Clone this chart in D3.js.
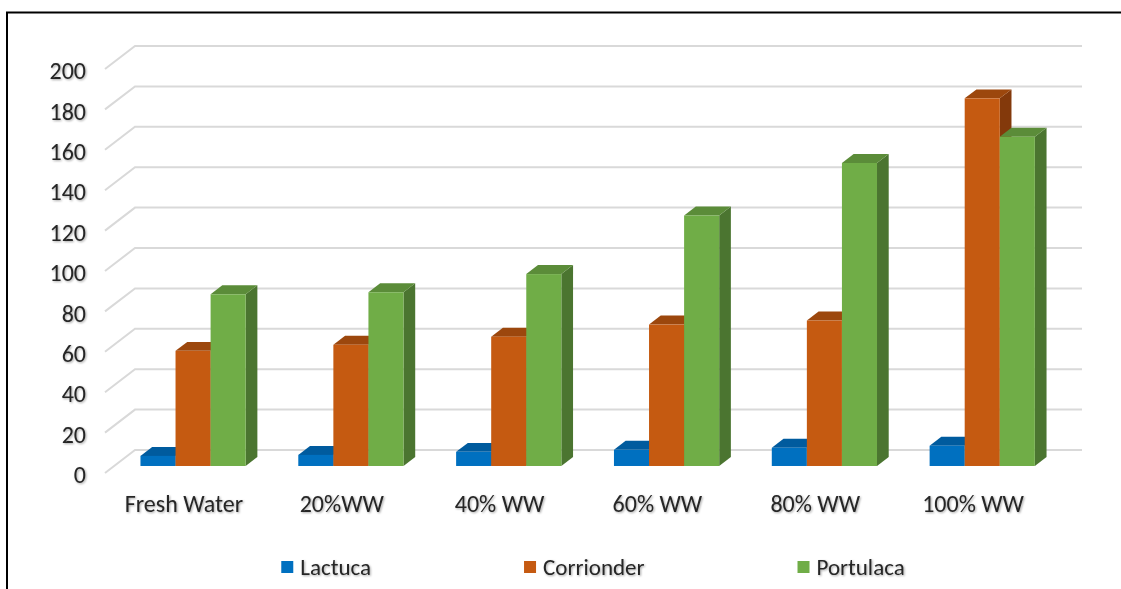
<!DOCTYPE html>
<html>
<head>
<meta charset="utf-8">
<script src="https://cdn.jsdelivr.net/npm/d3@7"></script>
<style>
  html, body { margin: 0; padding: 0; background: #fff; }
  svg { display: block; }
  text { font-family: Carlito, Lato, "Open Sans", sans-serif; fill: #262626; }
</style>
</head>
<body>
<svg id="chart" width="1121" height="589"></svg>
<script>
// Treatments (fresh water vs. wastewater share) and crop series
const categories = ["Fresh Water", "20%WW", "40% WW", "60% WW", "80% WW", "100% WW"];
const seriesNames = ["Lactuca", "Corrionder", "Portulaca"];
const lactuca    = [5, 5.5, 7, 8, 9, 10];
const corrionder = [57, 60, 64, 70, 72, 182];
const portulaca  = [85, 86, 95, 124, 150, 163];
const yTicks = [0, 20, 40, 60, 80, 100, 120, 140, 160, 180, 200];

const seriesValues = [lactuca, corrionder, portulaca];

const svg = d3.select("#chart");
const W = 1121, H = 589;
const FONT = "24px";

// Oblique 3D projection: depth axis runs up and to the right
const DX = 30, DY = 23;
const front = { x0: 105, x1: 1052 };
const y = d3.scaleLinear().domain([0, 200]).range([473, 69]);
const x0 = d3.scaleBand().domain(categories)
  .range([front.x0, front.x1])
  .paddingInner(1 / 3).paddingOuter(1 / 6);
const x1 = d3.scaleBand().domain(d3.range(seriesValues.length))
  .range([0, x0.bandwidth()]).padding(0);

// Columns sit in the middle of the depth
const dFront = 0.305, dBack = 0.695;

const faces = [
  { front: "#0070C0", top: "#005B9E", side: "#004F87" },
  { front: "#C55A11", top: "#9C470D", side: "#83390B" },
  { front: "#70AD47", top: "#5B8C39", side: "#4B7530" }
];

// Soft shadow under text
const defs = svg.append("defs");
const f = defs.append("filter").attr("id", "txtShadow")
  .attr("x", "-10%").attr("y", "-20%").attr("width", "130%").attr("height", "150%");
f.append("feDropShadow").attr("dx", 1).attr("dy", 1).attr("stdDeviation", 0.8)
  .attr("flood-color", "#000").attr("flood-opacity", 0.35);

// Chart frame
svg.append("rect")
  .attr("x", 7).attr("y", 12.5)
  .attr("width", W + 20).attr("height", H + 20)
  .attr("fill", "none").attr("stroke", "#000").attr("stroke-width", 2);

// Gridlines on the back wall with their slanted floor ends
const grid = svg.append("g");
grid.selectAll("polyline").data(yTicks).join("polyline")
  .attr("points", t => {
    const yy = y(t);
    return [[front.x0, yy], [front.x0 + DX, yy - DY], [front.x1 + DX, yy - DY]].join(" ");
  })
  .attr("fill", "none").attr("stroke", "#D9D9D9").attr("stroke-width", 2);

// Value axis labels
const yAxis = svg.append("g")
  .attr("transform", "translate(86,0)")
  .call(d3.axisLeft(y).tickValues(yTicks).tickSize(0).tickPadding(0));
yAxis.select(".domain").remove();
yAxis.selectAll("text")
  .attr("dy", "0.4em")
  .style("font-size", FONT)
  .attr("filter", "url(#txtShadow)");

// Category axis labels
const xAxis = svg.append("g")
  .attr("transform", "translate(0,495)")
  .call(d3.axisBottom(x0).tickSize(0).tickPadding(0));
xAxis.select(".domain").remove();
xAxis.selectAll("text")
  .style("font-size", FONT)
  .attr("filter", "url(#txtShadow)");

// 3D columns, drawn left to right so each hides its neighbour's side
const bars = [];
categories.forEach((c, i) => {
  seriesValues.forEach((vals, j) => bars.push({ c, j, v: vals[i] }));
});
const ddx = (dBack - dFront) * DX, ddy = (dBack - dFront) * DY;
const gBars = svg.append("g");
bars.forEach(b => {
  const xl = x0(b.c) + x1(b.j) + dFront * DX;
  const w = x1.bandwidth();
  const xr = xl + w;
  const yb = y(0) - dFront * DY;
  const yt = y(b.v) - dFront * DY;
  const col = faces[b.j];
  const g = gBars.append("g");
  g.append("polygon")
    .attr("points", [[xr, yt], [xr + ddx, yt - ddy], [xr + ddx, yb - ddy], [xr, yb]].join(" "))
    .attr("fill", col.side);
  g.append("polygon")
    .attr("points", [[xl, yt], [xr, yt], [xr + ddx, yt - ddy], [xl + ddx, yt - ddy]].join(" "))
    .attr("fill", col.top);
  g.append("rect")
    .attr("x", xl).attr("y", yt).attr("width", w).attr("height", yb - yt)
    .attr("fill", col.front);
});

// Legend: items separated by equal gaps, the whole row centred
const legend = svg.append("g");
const gap = 153, centre = 593, legY = 567;
const items = seriesNames.map((name, j) => {
  const item = legend.append("g");
  item.append("rect").attr("x", 0).attr("y", -6).attr("width", 12).attr("height", 12)
    .attr("fill", faces[j].front);
  item.append("text").attr("x", 19).attr("y", 0).attr("dy", "0.36em")
    .style("font-size", "23px").attr("filter", "url(#txtShadow)")
    .text(name);
  return { item, w: item.select("text").node().getComputedTextLength() + 19 };
});
const total = d3.sum(items, d => d.w) + gap * (items.length - 1);
let cx = centre - total / 2;
items.forEach(d => {
  d.item.attr("transform", `translate(${cx},${legY})`);
  cx += d.w + gap;
});
</script>
</body>
</html>
